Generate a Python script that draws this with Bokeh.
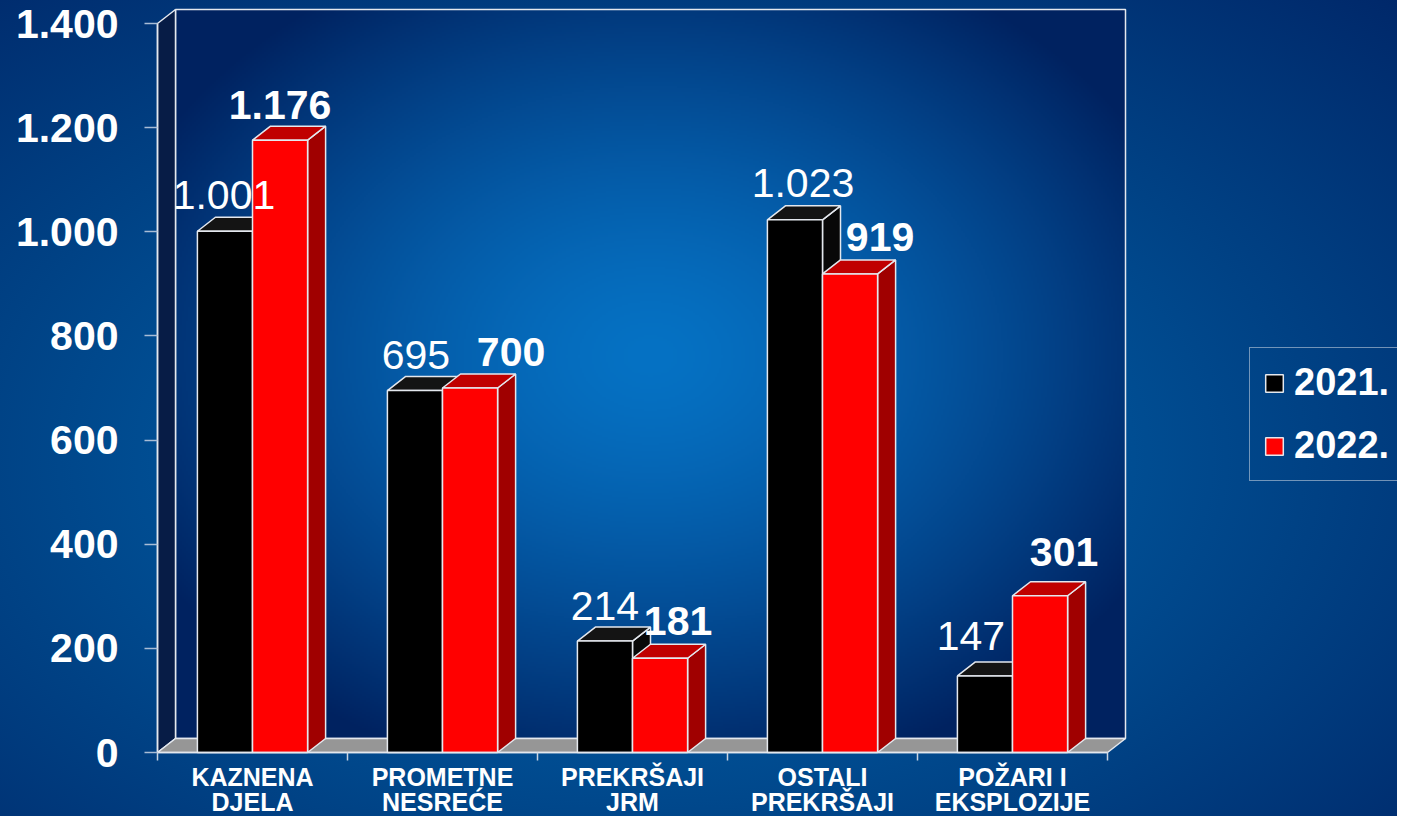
import numpy as np
from bokeh.plotting import figure
from bokeh.models import (Range1d, LinearAxis, FixedTicker, Legend, LegendItem,
                          ColumnDataSource)
from bokeh.core.properties import value
from bokeh.embed import file_html
from bokeh.resources import INLINE

# ---------------- data ----------------
categories = ["KAZNENA\nDJELA", "PROMETNE\nNESREĆE", "PREKRŠAJI\nJRM",
              "OSTALI\nPREKRŠAJI", "POŽARI I\nEKSPLOZIJE"]
series_names = ["2021.", "2022."]
values_2021 = [1001, 695, 214, 1023, 147]
values_2022 = [1176, 700, 181, 919, 301]
y_ticks = [0, 200, 400, 600, 800, 1000, 1200, 1400]
y_tick_labels = ["0", "200", "400", "600", "800", "1.000", "1.200", "1.400"]

# ---------------- layout constants ----------------
W, H = 1397, 816
PX_X = 190.0                # px per category
Y0 = 752                    # figure px (from top) of y = 0
Y_TOP = 23                  # figure px of the top tick
X0 = 157                    # figure px of x = 0
PX_Y = (Y0 - Y_TOP) / 1400.0
DEPTH_X = 18 / PX_X
DEPTH_Y = 14 / PX_Y
BAR_W = 0.29
YMAX = y_ticks[-1]
EDGE = "#e4e8ee"
FONT = "Liberation Sans"

# manual label nudges (screen px)
nudge_x_2021 = [-1, 1, 0, 8, -14]
nudge_y_2021 = [-36, -36, -35, -37, -40]
nudge_x_2022 = [0, 41, 18, 30, 24]
nudge_y_2022 = [-35, -36, -37, -37, -44]
cat_line_offsets = [24, 49]

n = len(categories)
centers = np.arange(n) + 0.5


def fmt(v):
    return f"{v:,}".replace(",", ".")


p = figure(width=W, height=H, output_backend="svg", toolbar_location=None,
           x_range=Range1d(-X0 / PX_X, (W - X0) / PX_X),
           y_range=Range1d(-(H - Y0) / PX_Y, Y0 / PX_Y),
           x_axis_location=None, y_axis_location=None,
           min_border=0, outline_line_color=None, tools="")
p.background_fill_alpha = 0
p.border_fill_alpha = 0
p.grid.visible = False
p.styles = {"background": "radial-gradient(ellipse farthest-corner at 46% 56%, "
                          "#0a6cbc 0%, #00589f 30%, #004285 62%, #00286a 100%)"}

# ---------------- back wall (radial gradient) ----------------
nx, ny = 475, 366
u = np.linspace(-1, 1, nx)[None, :]
v = np.linspace(-1, 1, ny)[:, None]
r = np.clip(np.sqrt(u ** 2 + (v - 0.05) ** 2) / 1.2, 0, 1)
t = r ** 1.45
c0 = np.array([6, 114, 196])
c1 = np.array([0, 34, 96])
img = np.empty((ny, nx), dtype=np.uint32)
view = img.view(dtype=np.uint8).reshape((ny, nx, 4))
for k in range(3):
    view[:, :, k] = (c0[k] * (1 - t) + c1[k] * t).astype(np.uint8)
view[:, :, 3] = 255
p.image_rgba(image=[img], x=DEPTH_X, y=DEPTH_Y, dw=n, dh=YMAX)
p.quad(left=DEPTH_X, right=n + DEPTH_X, bottom=DEPTH_Y, top=YMAX + DEPTH_Y,
       fill_alpha=0, line_color=EDGE, line_width=1.5)

# side wall
p.patch([0, 0, DEPTH_X, DEPTH_X], [0, YMAX, YMAX + DEPTH_Y, DEPTH_Y],
        fill_color="#071c46", line_color=EDGE, line_width=1.5)
# floor
p.patch([0, n, n + DEPTH_X, DEPTH_X], [0, 0, DEPTH_Y, DEPTH_Y],
        fill_color="#969696", line_color=EDGE, line_width=1.5)


# ---------------- 3D bars ----------------
def bar3d(lefts, vals, c_front, c_top, c_side):
    lefts = np.asarray(lefts, dtype=float)
    vals = np.asarray(vals, dtype=float)
    rights = lefts + BAR_W
    side_xs = [[r_, r_ + DEPTH_X, r_ + DEPTH_X, r_] for r_ in rights]
    side_ys = [[0, DEPTH_Y, v_ + DEPTH_Y, v_] for v_ in vals]
    p.patches(side_xs, side_ys, fill_color=c_side, line_color=EDGE, line_width=1.5)
    top_xs = [[l_, l_ + BAR_W, l_ + BAR_W + DEPTH_X, l_ + DEPTH_X] for l_ in lefts]
    top_ys = [[v_, v_, v_ + DEPTH_Y, v_ + DEPTH_Y] for v_ in vals]
    p.patches(top_xs, top_ys, fill_color=c_top, line_color=EDGE, line_width=1.5)
    return p.quad(left=lefts, right=rights, bottom=0, top=vals,
                  fill_color=c_front, line_color=EDGE, line_width=1.5)


r21 = bar3d(centers - BAR_W, values_2021, "#000000", "#141414", "#080808")
r22 = bar3d(centers, values_2022, "#ff0000", "#c00000", "#a00000")

# ---------------- value labels ----------------
src21 = ColumnDataSource(dict(x=centers - BAR_W / 2, y=values_2021,
                              t=[fmt(v_) for v_ in values_2021],
                              dx=nudge_x_2021, dy=nudge_y_2021))
src22 = ColumnDataSource(dict(x=centers + BAR_W / 2, y=values_2022,
                              t=[fmt(v_) for v_ in values_2022],
                              dx=nudge_x_2022, dy=nudge_y_2022))
p.text(x="x", y="y", text="t", x_offset="dx", y_offset="dy", source=src21,
       text_font=value(FONT), text_font_size="41px", text_color="white",
       text_align="center", text_baseline="middle")
p.text(x="x", y="y", text="t", x_offset="dx", y_offset="dy", source=src22,
       text_font=value(FONT), text_font_style="bold", text_font_size="41px",
       text_color="white", text_align="center", text_baseline="middle")

# ---------------- category labels (two lines) ----------------
for li in range(2):
    words = [c.split("\n")[li] for c in categories]
    p.text(x=list(centers), y=[0] * n, text=words, y_offset=cat_line_offsets[li],
           text_font=value(FONT), text_font_style="bold", text_font_size="25px",
           text_color="white", text_align="center", text_baseline="middle")

# ---------------- axes ----------------
yaxis = LinearAxis(fixed_location=0, ticker=FixedTicker(ticks=y_ticks),
                   bounds=(0, YMAX),
                   major_label_overrides={t_: l_ for t_, l_ in zip(y_ticks, y_tick_labels)})
yaxis.axis_line_color = EDGE
yaxis.axis_line_width = 1.5
yaxis.major_tick_line_color = "#a9bdd6"
yaxis.major_tick_line_width = 1.5
yaxis.major_tick_out = 13
yaxis.major_tick_in = 0
yaxis.minor_tick_line_color = None
yaxis.major_label_standoff = 26
yaxis.major_label_text_font = FONT
yaxis.major_label_text_font_style = "bold"
yaxis.major_label_text_font_size = "41px"
yaxis.major_label_text_color = "white"
p.add_layout(yaxis, "left")

xaxis = LinearAxis(fixed_location=0,
                   ticker=FixedTicker(ticks=[], minor_ticks=list(range(n + 1))),
                   bounds=(0, n))
xaxis.axis_line_color = EDGE
xaxis.axis_line_width = 1.5
xaxis.major_tick_line_color = None
xaxis.minor_tick_line_color = "#c8d4e2"
xaxis.minor_tick_line_width = 1.5
xaxis.minor_tick_out = 8
xaxis.minor_tick_in = 0
p.add_layout(xaxis, "below")

# ---------------- legend ----------------
legend = Legend(items=[LegendItem(label=series_names[0], renderers=[r21]),
                       LegendItem(label=series_names[1], renderers=[r22])],
                location=(1249, H - 481))
legend.label_text_font = FONT
legend.label_text_font_style = "bold"
legend.label_text_font_size = "38px"
legend.label_text_color = "white"
legend.glyph_width = 22
legend.glyph_height = 22
legend.label_standoff = 9
legend.padding = 13
legend.spacing = 20
legend.margin = 0
legend.border_line_color = EDGE
legend.border_line_width = 1
legend.background_fill_alpha = 0
p.add_layout(legend)

open("out.html", "w").write(file_html(p, INLINE))
